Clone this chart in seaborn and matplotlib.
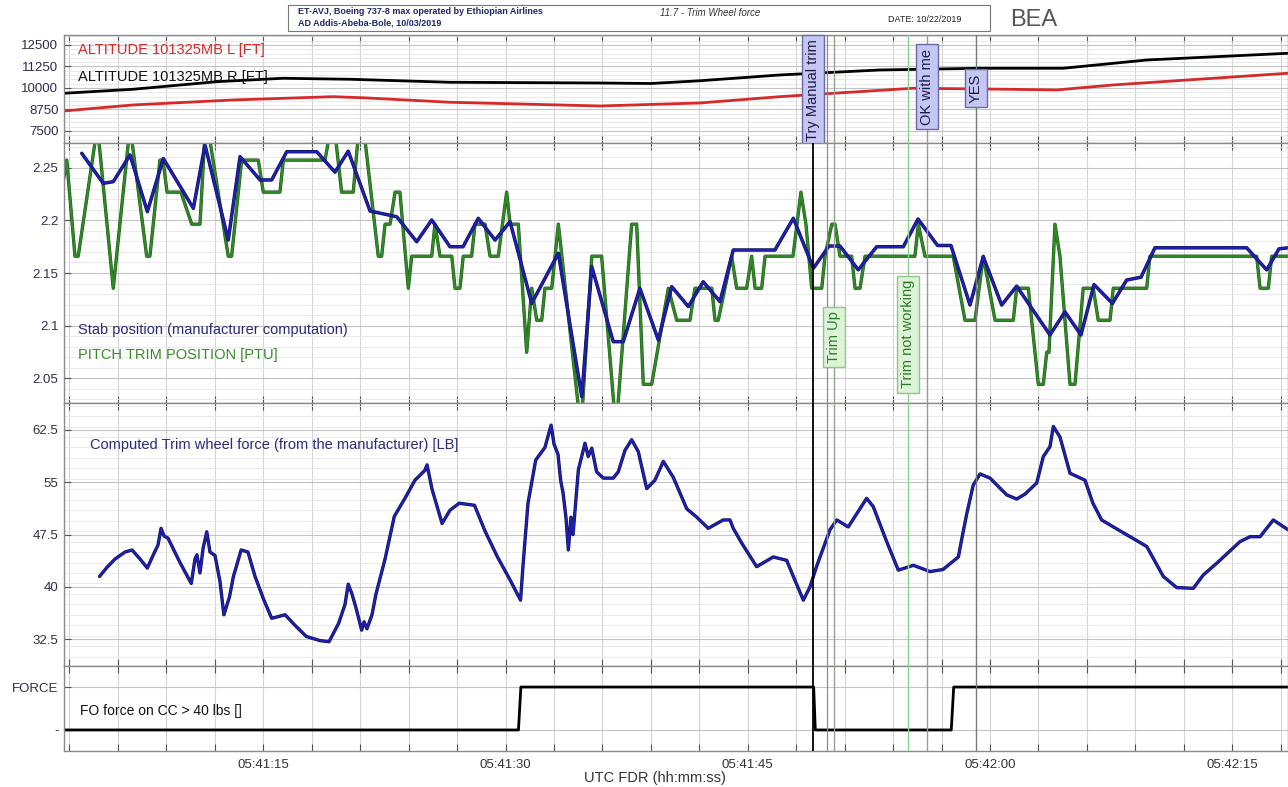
import numpy as np
import pandas as pd
import matplotlib.pyplot as plt
import matplotlib.ticker as mticker
import matplotlib.transforms as mtrans
import matplotlib.patheffects as pe
from matplotlib.patches import Rectangle
import seaborn as sns

sns.set_style("whitegrid")
plt.rcParams['font.family'] = ['Liberation Sans', 'DejaVu Sans']

# time axis = seconds after 05:41:00 UTC
T_MIN, T_MAX = 2.66, 78.45

# --- altitude panel ---
alt_l_t = [2.66, 6.93, 13.12, 19.32, 21.42, 26.56, 35.85, 42.04, 46.99, 55.23, 60.62, 64.13, 67.61, 78.45]
alt_l   = [8663, 9012, 9302, 9494, 9420, 9169, 8953, 9128, 9494, 9983, 9930, 9884, 10174, 10855]
alt_r_t = [2.66, 6.93, 12.13, 16.22, 20.37, 26.56, 35.85, 39.0, 42.04, 46.99, 53.19, 59.38, 64.52, 69.72, 78.45]
alt_r   = [9692, 9924, 10366, 10564, 10506, 10331, 10290, 10260, 10420, 10756, 11047, 11145, 11145, 11628, 12017]

# --- pitch trim position (PTU), quantised steps ---
ptu_t = [2.60, 2.83, 3.34, 3.54, 4.73, 5.71, 6.75, 7.78, 7.98, 8.60, 8.79, 9.04, 9.90, 10.57, 11.08,
         11.45, 12.83, 13.04, 13.66, 14.69, 15.00, 16.03, 16.24, 18.82, 19.32, 19.85, 20.57, 21.05,
         22.12, 22.33, 22.54, 22.85, 23.16, 23.46, 23.98, 24.19, 25.43, 25.63, 25.94, 26.67, 26.87,
         27.18, 27.38, 27.90, 28.11, 28.73, 29.04, 29.55, 30.07, 30.28, 30.79, 31.31, 31.62, 31.93,
         32.24, 32.44, 32.86, 33.27, 34.67, 35.34, 35.95, 36.84, 37.81, 38.12, 38.53, 39.05, 40.08,
         40.60, 41.42, 41.73, 42.77, 42.97, 43.17, 44.00, 44.31, 44.93, 45.24, 45.45, 45.86, 46.07,
         47.80, 48.29, 48.60, 48.96, 49.58, 49.78, 50.20, 50.40, 50.71, 51.43, 51.64, 51.95, 52.26,
         55.35, 55.56, 55.97, 57.72, 58.45, 59.07, 59.58, 60.31, 61.44, 61.65, 62.37, 62.99, 63.30,
         63.51, 63.65, 64.02, 64.33, 64.95, 65.26, 65.77, 66.39, 66.70, 67.43, 67.63, 69.70, 69.90,
         76.51, 76.72, 77.23, 77.44, 78.45]
ptu = [2.236, 2.2575, 2.166, 2.166, 2.29, 2.1355, 2.29, 2.166, 2.166, 2.2575, 2.2575, 2.227, 2.227,
       2.1965, 2.1965, 2.30, 2.166, 2.166, 2.2575, 2.2575, 2.227, 2.227, 2.2575, 2.2575, 2.30, 2.227,
       2.227, 2.31, 2.166, 2.166, 2.1965, 2.1965, 2.227, 2.227, 2.1355, 2.166, 2.166, 2.1965, 2.166,
       2.166, 2.1355, 2.1355, 2.166, 2.166, 2.1965, 2.1965, 2.166, 2.166, 2.227, 2.1965, 2.1965,
       2.0745, 2.1355, 2.105, 2.105, 2.1355, 2.1355, 2.1965, 2.00, 2.166, 2.166, 2.00, 2.1965, 2.1965,
       2.044, 2.044, 2.1355, 2.105, 2.105, 2.1355, 2.1355, 2.105, 2.105, 2.166, 2.1355, 2.1355, 2.166,
       2.1355, 2.1355, 2.166, 2.166, 2.227, 2.1965, 2.1355, 2.1355, 2.166, 2.1965, 2.1965, 2.166,
       2.166, 2.1355, 2.1355, 2.166, 2.166, 2.1965, 2.166, 2.166, 2.105, 2.105, 2.166, 2.105, 2.105,
       2.1355, 2.1355, 2.044, 2.044, 2.0745, 2.0745, 2.1965, 2.166, 2.044, 2.044, 2.1355, 2.1355,
       2.105, 2.105, 2.1355, 2.1355, 2.166, 2.166, 2.1355, 2.1355, 2.166, 2.166]

# --- stab position (manufacturer computation) ---
stab_t = [3.76, 5.09, 5.71, 6.75, 7.82, 8.81, 10.67, 11.39, 12.83, 13.56, 14.80, 15.52, 16.45, 18.31,
          19.44, 20.26, 21.61, 23.26, 24.50, 25.43, 26.56, 27.37, 28.31, 29.35, 30.28, 31.62, 33.27,
          34.72, 35.34, 36.67, 37.29, 38.32, 39.46, 40.29, 41.32, 42.24, 43.28, 44.10, 46.68, 47.82,
          49.06, 50.03, 50.71, 51.84, 52.98, 54.63, 55.54, 56.75, 57.58, 58.76, 59.58, 60.72, 61.65,
          63.71, 64.64, 65.63, 66.44, 67.58, 68.46, 69.35, 70.21, 75.89, 77.13, 77.89, 78.45]
stab = [2.264, 2.2354, 2.237, 2.2624, 2.2084, 2.259, 2.2116, 2.272, 2.1814, 2.2608, 2.2386, 2.2386,
        2.2655, 2.2655, 2.246, 2.266, 2.209, 2.2036, 2.1798, 2.2005, 2.175, 2.175, 2.2021, 2.1814,
        2.1989, 2.1211, 2.1688, 2.0322, 2.156, 2.0846, 2.0846, 2.1354, 2.0862, 2.137, 2.118, 2.1417,
        2.1227, 2.1719, 2.1719, 2.2021, 2.1545, 2.1757, 2.1757, 2.153, 2.175, 2.175, 2.2014, 2.1762,
        2.1762, 2.1195, 2.1655, 2.1195, 2.1375, 2.091, 2.113, 2.091, 2.139, 2.121, 2.1433, 2.146,
        2.174, 2.174, 2.153, 2.173, 2.174]

# --- computed trim wheel force [LB] ---
force_t = [4.86, 5.32, 5.82, 6.44, 6.87, 7.37, 7.82, 8.17, 8.48, 8.67, 8.85, 9.10, 9.84, 10.54, 10.77,
           10.89, 11.08, 11.27, 11.50, 11.70, 12.01, 12.32, 12.56, 12.91, 13.15, 13.63, 14.05, 14.49,
           15.04, 15.52, 16.35, 16.96, 17.66, 18.51, 19.07, 19.67, 20.06, 20.26, 20.49, 20.74, 21.09,
           21.24, 21.42, 21.73, 21.98, 22.54, 23.11, 23.82, 24.39, 25.00, 25.14, 25.45, 26.07, 26.56,
           27.13, 28.08, 28.73, 29.50, 30.28, 30.93, 31.08, 31.39, 31.87, 32.44, 32.82, 33.00, 33.25,
           33.41, 33.56, 33.74, 33.89, 34.05, 34.18, 34.51, 34.92, 35.12, 35.34, 35.64, 36.05, 36.67,
           36.98, 37.40, 37.81, 38.22, 38.74, 39.25, 39.77, 40.39, 41.22, 41.84, 42.55, 43.48, 43.90,
           44.10, 44.62, 45.55, 46.58, 47.41, 47.82, 48.44, 48.85, 49.27, 50.09, 50.51, 51.22, 52.36,
           52.77, 53.60, 54.32, 55.25, 56.28, 57.09, 58.04, 58.26, 58.56, 58.96, 59.38, 60.00, 61.03,
           61.65, 62.16, 62.89, 63.30, 63.71, 63.92, 64.33, 64.95, 65.88, 66.37, 66.91, 67.49, 69.70,
           70.73, 71.56, 72.59, 73.20, 74.04, 75.48, 76.10, 76.72, 77.54, 78.45]
force = [41.5, 42.8, 44.0, 45.0, 45.3, 44.0, 42.7, 44.5, 46.0, 48.4, 47.3, 47.0, 43.5, 40.5, 44.0,
         44.6, 42.0, 45.5, 47.9, 45.0, 44.5, 40.75, 36.0, 38.6, 41.5, 45.3, 45.0, 41.5, 38.1, 35.5,
         36.0, 34.5, 32.9, 32.3, 32.14, 34.8, 37.5, 40.4, 39.0, 37.0, 33.8, 35.0, 34.0, 36.0, 39.0,
         44.0, 50.1, 52.9, 55.3, 56.7, 57.5, 54.0, 49.1, 51.0, 52.0, 51.7, 48.0, 44.3, 41.0, 38.1,
         43.0, 52.0, 58.2, 60.0, 63.2, 60.5, 59.0, 55.3, 53.5, 50.0, 45.3, 50.0, 47.5, 56.8, 60.6,
         58.7, 59.9, 56.5, 55.6, 55.6, 56.5, 59.6, 61.1, 59.4, 54.1, 55.3, 58.0, 55.7, 51.2, 50.0,
         48.4, 49.6, 49.6, 48.4, 46.3, 42.9, 44.3, 43.8, 41.5, 38.1, 40.0, 43.0, 48.2, 49.6, 48.6,
         52.7, 51.5, 46.5, 42.4, 43.1, 42.2, 42.5, 44.3, 47.0, 50.5, 54.6, 56.2, 55.6, 53.2, 52.6,
         53.3, 54.9, 58.7, 60.1, 63.0, 61.5, 56.3, 55.3, 52.0, 49.6, 48.8, 45.8, 41.5, 39.9, 39.8,
         41.7, 43.4, 46.5, 47.2, 47.2, 49.6, 48.2]

# --- FO force on control column > 40 lbs (discrete) ---
fo_t = [2.66, 30.80, 30.95, 49.08, 49.18, 57.60, 57.75, 78.45]
fo = [0, 0, 1, 1, 0, 0, 1, 1]

# --- CVR events ---
ev_times = [49.04, 49.89, 50.34, 54.92, 56.10, 59.13]
ev_colors = ['black', '#8c8c8c', '#8fa58f', '#8fd08f', '#9a9a9a', '#7a7a7a']
ev_lw = [1.3, 0.9, 1.0, 1.0, 1.0, 1.0]

BLUE = '#1f1fb4'
GREEN = '#2f8a26'

W, H = 1288, 787
fig = plt.figure(figsize=(W / 100, H / 100), dpi=100)


def add_panel(top_px, bot_px):
    return fig.add_axes([64 / W, 1 - bot_px / H, (W - 64) / W, (bot_px - top_px) / H])


ax1 = add_panel(35, 143)
ax2 = add_panel(143, 403)
ax3 = add_panel(403, 666)
ax4 = add_panel(666, 751)
axes = [ax1, ax2, ax3, ax4]

sns.lineplot(x=alt_l_t, y=alt_l, ax=ax1, color='#d42a2a', lw=2, estimator=None, sort=False)
sns.lineplot(x=alt_r_t, y=alt_r, ax=ax1, color='black', lw=2, estimator=None, sort=False)

sns.lineplot(x=ptu_t, y=ptu, ax=ax2, color=GREEN, lw=1.6, estimator=None, sort=False,
             path_effects=[pe.Stroke(linewidth=2.4, foreground='#1f5a1a'), pe.Normal()])
sns.lineplot(x=stab_t, y=stab, ax=ax2, color=BLUE, lw=1.6, estimator=None, sort=False,
             path_effects=[pe.Stroke(linewidth=2.5, foreground='#101050'), pe.Normal()])

sns.lineplot(x=force_t, y=force, ax=ax3, color=BLUE, lw=1.5, estimator=None, sort=False,
             path_effects=[pe.Stroke(linewidth=2.4, foreground='#101050'), pe.Normal()])

sns.lineplot(x=fo_t, y=fo, ax=ax4, color='black', lw=2, estimator=None, sort=False)


def time_label(v, pos):
    s = int(round(5 * 3600 + 41 * 60 + v))
    return '%02d:%02d:%02d' % (s // 3600, (s // 60) % 60, s % 60)


for ax in axes:
    ax.set_xlim(T_MIN, T_MAX)
    ax.xaxis.set_major_locator(mticker.MultipleLocator(15))
    ax.xaxis.set_minor_locator(mticker.MultipleLocator(3))
    ax.xaxis.set_major_formatter(mticker.FuncFormatter(time_label))
    ax.grid(True, which='major', axis='x', color='#d4d4d4', lw=0.8)
    ax.grid(True, which='minor', axis='x', color='#d4d4d4', lw=0.8)
    ax.grid(True, which='major', axis='y', color='#c4c4c4', lw=0.8)
    ax.grid(True, which='minor', axis='y', color='#e6e6e6', lw=0.6)
    ax.tick_params(axis='x', which='both', direction='in', top=True, bottom=True,
                   length=5, width=0.8, color='#555555', labelbottom=False)
    ax.tick_params(axis='y', which='major', direction='in', left=True, length=5,
                   width=0.8, color='#555555', labelsize=9.5, labelcolor='#2e2e48', pad=4)
    ax.tick_params(axis='y', which='minor', left=False)
    for sp in ax.spines.values():
        sp.set_color('#8a8a8a')
        sp.set_linewidth(1.0)
    ax.set_xlabel('')
    ax.set_ylabel('')
    for t, c, lw in zip(ev_times, ev_colors, ev_lw):
        ax.axvline(t, color=c, lw=lw, zorder=3)

ax1.set_ylim(6800, 13080)
ax1.set_yticks([7500, 8750, 10000, 11250, 12500])
ax1.yaxis.set_minor_locator(mticker.MultipleLocator(250))

ax2.set_ylim(2.0262, 2.2738)
ax2.set_yticks([2.05, 2.1, 2.15, 2.2, 2.25])
ax2.yaxis.set_major_formatter(mticker.FuncFormatter(lambda v, p: '%g' % round(v, 2)))
ax2.yaxis.set_minor_locator(mticker.MultipleLocator(0.01))

ax3.set_ylim(28.66, 66.37)
ax3.set_yticks([32.5, 40, 47.5, 55, 62.5])
ax3.yaxis.set_major_formatter(mticker.FuncFormatter(lambda v, p: '%g' % v))
ax3.yaxis.set_minor_locator(mticker.MultipleLocator(1.5))

ax4.set_ylim(-0.49, 1.49)
ax4.set_yticks([0, 1])
ax4.set_yticklabels(['-', 'FORCE'])
ax4.tick_params(axis='x', which='major', labelbottom=True, labelsize=9.5,
                labelcolor='#333333', pad=6)

# series names inside the panels
ax1.text(0.0114, 0.861, 'ALTITUDE 101325MB L [FT]', transform=ax1.transAxes, color='#d42a2a',
         fontsize=10.5, va='center')
ax1.text(0.0114, 0.611, 'ALTITUDE 101325MB R [FT]', transform=ax1.transAxes, color='#111111',
         fontsize=10.5, va='center')
ax2.text(0.0114, 0.281, 'Stab position (manufacturer computation)', transform=ax2.transAxes,
         color='#2a2a7a', fontsize=10.5, va='center')
ax2.text(0.0114, 0.185, 'PITCH TRIM POSITION [PTU]', transform=ax2.transAxes,
         color='#3a8a2a', fontsize=10.5, va='center')
ax3.text(0.0212, 0.840, 'Computed Trim wheel force (from the manufacturer) [LB]',
         transform=ax3.transAxes, color='#2a2a7a', fontsize=10.5, va='center')
ax4.text(0.013, 0.47, 'FO force on CC > 40 lbs []', transform=ax4.transAxes,
         color='#111111', fontsize=10, va='center')

# CVR annotation boxes
lav = dict(boxstyle='square,pad=0.3', fc='#c6c6f2', ec='#6a6aa8', lw=1)
grn = dict(boxstyle='square,pad=0.3', fc='#dcf3d6', ec='#8cc88c', lw=1)
tr1 = mtrans.blended_transform_factory(ax1.transData, ax1.transAxes)
tr2 = mtrans.blended_transform_factory(ax2.transData, ax2.transAxes)
ax1.text(ev_times[0], 0.49, 'Try Manual trim', transform=tr1, rotation=90, ha='center',
         va='center', fontsize=10.5, color='#1a1a4a', bbox=lav, zorder=6, clip_on=False)
ax1.text(ev_times[4], 0.523, 'OK with me', transform=tr1, rotation=90, ha='center',
         va='center', fontsize=10.5, color='#1a1a4a', bbox=lav, zorder=6)
ax1.text(ev_times[5], 0.509, 'YES', transform=tr1, rotation=90, ha='center',
         va='center', fontsize=10.5, color='#1a1a4a', bbox=lav, zorder=6)
ax2.text(ev_times[2], 0.254, 'Trim Up', transform=tr2, rotation=90, ha='center',
         va='center', fontsize=10.5, color='#2a7a2a', bbox=grn, zorder=6)
ax2.text(ev_times[3], 0.265, 'Trim not working', transform=tr2, rotation=90, ha='center',
         va='center', fontsize=10.5, color='#2a7a2a', bbox=grn, zorder=6)

fig.text(655 / W, 1 - 778 / H, 'UTC FDR (hh:mm:ss)', ha='center', va='center',
         fontsize=10.5, color='#333333')

# header cartouche
fig.patches.append(Rectangle((288 / W, 1 - 31 / H), (990 - 288) / W, 26 / H,
                             transform=fig.transFigure, fc='white', ec='#777777', lw=0.8))
fig.text(298 / W, 1 - 11 / H, 'ET-AVJ, Boeing 737-8 max operated by Ethiopian Airlines',
         fontsize=6.5, fontweight='bold', color='#1c2a6a', va='center')
fig.text(298 / W, 1 - 23 / H, 'AD Addis-Abeba-Bole, 10/03/2019',
         fontsize=6.5, fontweight='bold', color='#1c2a6a', va='center')
fig.text(660 / W, 1 - 13 / H, '11.7 - Trim Wheel force', fontsize=7, style='italic',
         color='#333333', va='center')
fig.text(888 / W, 1 - 20 / H, 'DATE: 10/22/2019', fontsize=6.5, color='#222222', va='center')
fig.text(1010 / W, 1 - 20 / H, 'BEA', fontsize=17, color='#555555', va='center')

fig.savefig('out.png', dpi=100)
